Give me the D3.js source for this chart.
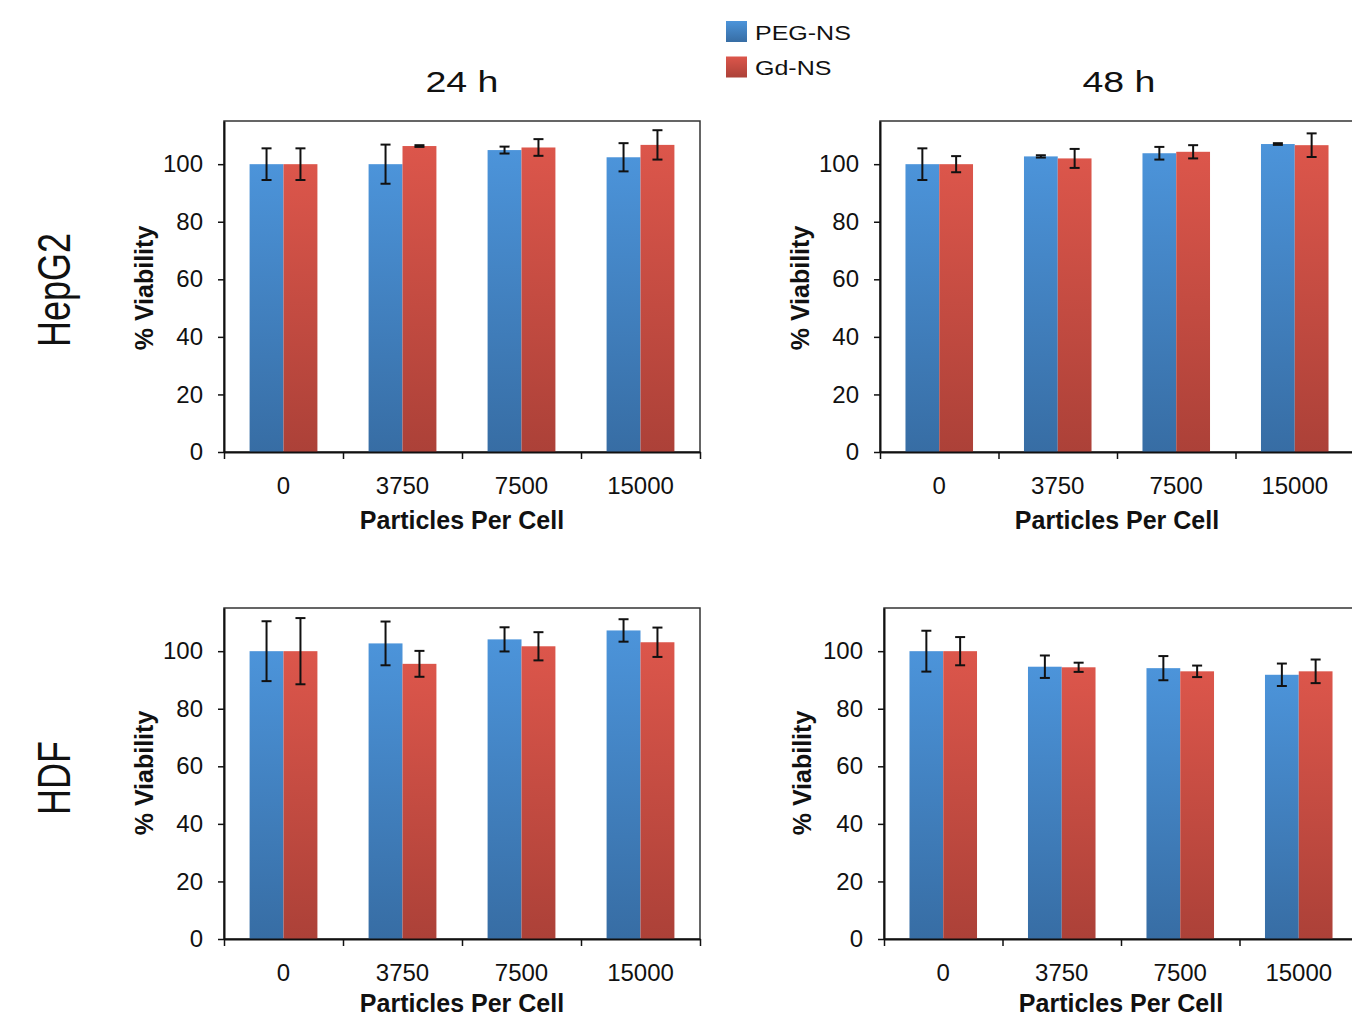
<!DOCTYPE html>
<html>
<head>
<meta charset="utf-8">
<script src="https://cdn.jsdelivr.net/npm/d3@7/dist/d3.min.js"></script>
<style>
  body { margin: 0; background: #fff; }
  svg { display: block; font-family: "Liberation Sans", Arial, sans-serif; }
</style>
</head>
<body>
<div id="chart"></div>
<script>
var d3 = d3 || {};

// particles per cell
var categories = ["0", "3750", "7500", "15000"];
var seriesNames = ["PEG-NS", "Gd-NS"];
var yTicks = [0, 20, 40, 60, 80, 100];

// HepG2, 24 h
var hepg2_24_peg = [100, 100, 104.9, 102.4];
var hepg2_24_pegErr = [5.5, 6.8, 1.2, 4.9];
var hepg2_24_gd = [100, 106.3, 105.8, 106.7];
var hepg2_24_gdErr = [5.5, 0.3, 2.9, 5.1];

// HepG2, 48 h
var hepg2_48_peg = [100, 102.7, 103.8, 107];
var hepg2_48_pegErr = [5.5, 0.4, 2.2, 0.3];
var hepg2_48_gd = [100, 102, 104.3, 106.6];
var hepg2_48_gdErr = [2.8, 3.3, 2.3, 4.1];

// HDF, 24 h
var hdf_24_peg = [100, 102.7, 104.1, 107.2];
var hdf_24_pegErr = [10.4, 7.6, 4.2, 3.9];
var hdf_24_gd = [100, 95.6, 101.7, 103.1];
var hdf_24_gdErr = [11.5, 4.5, 4.9, 5.1];

// HDF, 48 h
var hdf_48_peg = [100, 94.6, 94.1, 91.8];
var hdf_48_pegErr = [7.1, 3.9, 4.2, 3.9];
var hdf_48_gd = [100, 94.4, 93.0, 93.0];
var hdf_48_gdErr = [4.9, 1.6, 2.0, 4.1];

(function() {
  "use strict";

  var width = 1352,
    height = 1019,
    yMax = 115;

  var svg = d3.select("#chart").append("svg")
    .attr("width", width)
    .attr("height", height);

  var defs = svg.append("defs");
  addGradient("grad-blue", "#4c94da", "#376da4");
  addGradient("grad-red", "#dc564b", "#ac4138");
  var fills = ["url(#grad-blue)", "url(#grad-red)"];

  function addGradient(id, top, bottom) {
    var g = defs.append("linearGradient")
      .attr("id", id)
      .attr("x1", 0).attr("y1", 0)
      .attr("x2", 0).attr("y2", 1);
    g.append("stop").attr("offset", "0%").attr("stop-color", top);
    g.append("stop").attr("offset", "100%").attr("stop-color", bottom);
  }

  function zip(peg, pegErr, gd, gdErr) {
    return categories.map(function(c, i) {
      return {cat: c, vals: [[peg[i], pegErr[i]], [gd[i], gdErr[i]]]};
    });
  }

  function drawPanel(p) {
    var x = d3.scaleBand()
      .domain(categories)
      .range([p.left, p.right])
      .paddingInner(0.43)
      .paddingOuter(0.215);
    var x1 = d3.scaleBand()
      .domain([0, 1])
      .range([0, x.bandwidth()]);
    var y = d3.scaleLinear()
      .domain([0, yMax])
      .range([p.bottom, p.top]);
    var xEdge = d3.scaleLinear()
      .domain([0, categories.length])
      .range([p.left, p.right]);

    var g = svg.append("g");

    // plot frame
    g.append("rect")
      .attr("x", p.left)
      .attr("y", p.top)
      .attr("width", p.right - p.left)
      .attr("height", p.bottom - p.top)
      .attr("fill", "none")
      .attr("stroke", "#333")
      .attr("stroke-width", 1.5);

    var groups = g.selectAll(".grp")
      .data(p.data)
      .enter().append("g")
      .attr("class", "grp")
      .attr("transform", function(d) { return "translate(" + x(d.cat) + ",0)"; });

    groups.selectAll("rect")
      .data(function(d) { return d.vals; })
      .enter().append("rect")
      .attr("x", function(d, i) { return x1(i); })
      .attr("y", function(d) { return y(d[0]); })
      .attr("width", x1.bandwidth())
      .attr("height", function(d) { return y(0) - y(d[0]); })
      .attr("fill", function(d, i) { return fills[i]; });

    // error bars
    var err = groups.selectAll(".err")
      .data(function(d) { return d.vals; })
      .enter().append("g")
      .attr("class", "err")
      .attr("stroke", "#111")
      .attr("stroke-width", 2);
    err.append("line")
      .attr("x1", function(d, i) { return x1(i) + x1.bandwidth() / 2; })
      .attr("x2", function(d, i) { return x1(i) + x1.bandwidth() / 2; })
      .attr("y1", function(d) { return y(d[0] + d[1]); })
      .attr("y2", function(d) { return y(d[0] - d[1]); });
    [1, -1].forEach(function(s) {
      err.append("line")
        .attr("x1", function(d, i) { return x1(i) + x1.bandwidth() / 2 - 5; })
        .attr("x2", function(d, i) { return x1(i) + x1.bandwidth() / 2 + 5; })
        .attr("y1", function(d) { return y(d[0] + s * d[1]); })
        .attr("y2", function(d) { return y(d[0] + s * d[1]); });
    });

    // y axis
    var yAxis = g.append("g")
      .attr("transform", "translate(" + p.left + ",0)")
      .call(d3.axisLeft(y).tickValues(yTicks).tickSize(6).tickPadding(15).tickSizeOuter(0));
    yAxis.select(".domain").attr("stroke", "#111").attr("stroke-width", 2);
    yAxis.selectAll(".tick line").attr("stroke", "#111").attr("stroke-width", 1.5);
    yAxis.selectAll("text").attr("font-size", 24).attr("fill", "#111")
      .attr("font-family", "'Liberation Sans', Arial, sans-serif");

    // x axis: ticks between categories
    var xAxis = g.append("g")
      .attr("transform", "translate(0," + p.bottom + ")")
      .call(d3.axisBottom(xEdge).ticks(categories.length).tickSize(7).tickFormat("").tickSizeOuter(0));
    xAxis.select(".domain").attr("stroke", "#111").attr("stroke-width", 2);
    xAxis.selectAll(".tick line").attr("stroke", "#111").attr("stroke-width", 1.5);

    var xLabels = g.append("g")
      .attr("transform", "translate(0," + p.bottom + ")")
      .call(d3.axisBottom(x).tickSize(0).tickPadding(25));
    xLabels.select(".domain").remove();
    xLabels.selectAll("text").attr("font-size", 24).attr("fill", "#111")
      .attr("font-family", "'Liberation Sans', Arial, sans-serif");

    g.append("text")
      .attr("x", (p.left + p.right) / 2)
      .attr("y", p.bottom + p.titleOffset)
      .attr("text-anchor", "middle")
      .attr("font-size", 25)
      .attr("font-weight", "bold")
      .attr("fill", "#111")
      .text("Particles Per Cell");

    g.append("text")
      .attr("transform", "translate(" + p.yLabelX + "," + p.yLabelY + ") rotate(-90)")
      .attr("text-anchor", "middle")
      .attr("font-size", 25)
      .attr("font-weight", "bold")
      .attr("fill", "#111")
      .text("% Viability");
  }

  var panels = [
    {left: 224, right: 700, top: 121, bottom: 452, titleOffset: 77, yLabelX: 153, yLabelY: 288,
      data: zip(hepg2_24_peg, hepg2_24_pegErr, hepg2_24_gd, hepg2_24_gdErr)},
    {left: 880, right: 1354, top: 121, bottom: 452, titleOffset: 77, yLabelX: 809, yLabelY: 288,
      data: zip(hepg2_48_peg, hepg2_48_pegErr, hepg2_48_gd, hepg2_48_gdErr)},
    {left: 224, right: 700, top: 608, bottom: 939, titleOffset: 73, yLabelX: 153, yLabelY: 773,
      data: zip(hdf_24_peg, hdf_24_pegErr, hdf_24_gd, hdf_24_gdErr)},
    {left: 884, right: 1358, top: 608, bottom: 939, titleOffset: 73, yLabelX: 811, yLabelY: 773,
      data: zip(hdf_48_peg, hdf_48_pegErr, hdf_48_gd, hdf_48_gdErr)}
  ];
  panels.forEach(drawPanel);

  // column titles
  [["24 h", 462], ["48 h", 1119]].forEach(function(t) {
    svg.append("text")
      .attr("transform", "translate(" + t[1] + ",92) scale(1.25,1)")
      .attr("text-anchor", "middle")
      .attr("font-size", 30)
      .attr("fill", "#111")
      .text(t[0]);
  });

  // row labels
  [["HepG2", 290], ["HDF", 778]].forEach(function(t) {
    svg.append("text")
      .attr("transform", "translate(70," + t[1] + ") scale(1.3,1) rotate(-90)")
      .attr("text-anchor", "middle")
      .attr("font-size", 36)
      .attr("fill", "#111")
      .text(t[0]);
  });

  // legend
  var legend = svg.append("g").attr("transform", "translate(726,21)");
  seriesNames.forEach(function(name, i) {
    legend.append("rect")
      .attr("x", 0)
      .attr("y", i * 35.5)
      .attr("width", 21)
      .attr("height", 21)
      .attr("fill", fills[i]);
    legend.append("text")
      .attr("transform", "translate(29," + (i * 35.5 + 18.5) + ") scale(1.25,1)")
      .attr("font-size", 20)
      .attr("fill", "#111")
      .text(name);
  });
})();
</script>
</body>
</html>
